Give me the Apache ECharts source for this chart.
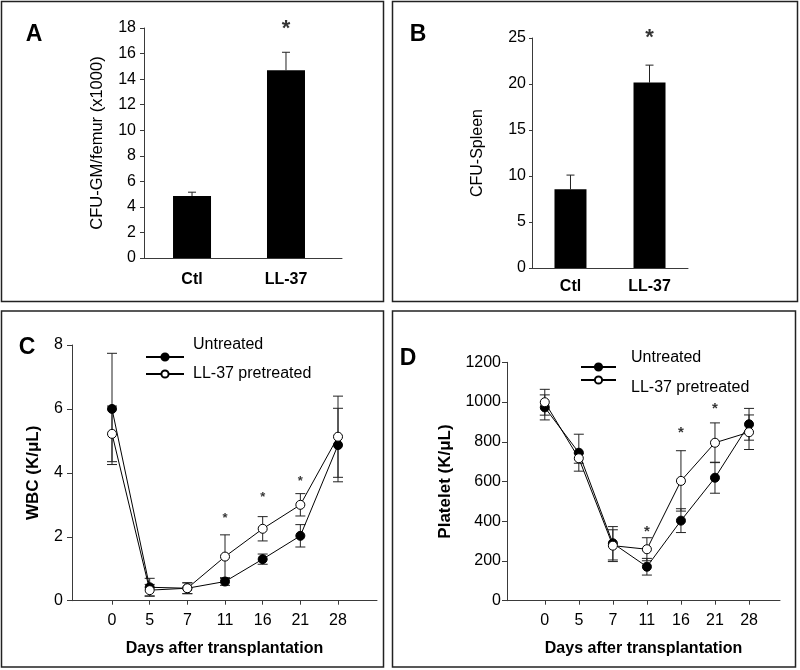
<!DOCTYPE html>
<html><head><meta charset="utf-8">
<script src="https://cdn.jsdelivr.net/npm/echarts@6/dist/echarts.min.js"></script>
<style>html,body{margin:0;padding:0;background:#fff}#c{width:800px;height:670px}</style>
</head><body><div id="c"></div>
<script>
// ---------- data ----------
const barCategories = ['Ctl', 'LL-37'];
const cfuGM = [4.85, 14.7];
const cfuGMErr = [0.3, 1.4];
const cfuGMSig = [[2, 18.3]];
const cfuSpleen = [8.55, 20.15];
const cfuSpleenErr = [1.55, 1.9];
const cfuSpleenSig = [[2, 25.6]];
const days = ['0', '5', '7', '11', '16', '21', '28'];
const wbcUntreated = [6.0, 0.42, 0.39, 0.60, 1.30, 2.03, 4.87];
const wbcUntreatedErr = [1.74, 0.28, 0.17, 0.12, 0.16, 0.35, 1.15];
const wbcPretreated = [5.22, 0.33, 0.39, 1.38, 2.25, 3.0, 5.13];
const wbcPretreatedErr = [0.87, 0.18, 0.17, 0.68, 0.38, 0.35, 1.27];
const wbcSig = [[3, 2.68], [4, 3.31], [5, 3.83]];
const pltUntreated = [973, 745, 289, 171, 403, 619, 888];
const pltUntreatedErr = [63, 93, 84, 42, 60, 78, 80];
const pltPretreated = [999, 717, 277, 259, 603, 795, 848];
const pltPretreatedErr = [65, 25, 80, 58, 152, 100, 87];
const pltSig = [[3, 364], [4, 859], [5, 980]];

// ---------- helpers ----------
const FONT = 'Liberation Sans, Arial, Helvetica, sans-serif';
const AX = '#3a3a3a';
const dayIdx = days.map((d, i) => i);

function errBars(xi, yi, xs, ys, es, bothSides, w) {
  return {
    type: 'custom', xAxisIndex: xi, yAxisIndex: yi, silent: true, z: 2,
    data: ys.map((v, i) => [xs[i], v, es[i]]),
    renderItem: function (params, api) {
      const x = api.value(0), y = api.value(1), e = api.value(2);
      const top = api.coord([x, y + e]);
      const bot = api.coord([x, bothSides ? y - e : y]);
      const st = { stroke: '#222', lineWidth: 1 };
      const ch = [
        { type: 'line', shape: { x1: top[0], y1: top[1], x2: bot[0], y2: bot[1] }, style: st },
        { type: 'line', shape: { x1: top[0] - w, y1: top[1], x2: top[0] + w, y2: top[1] }, style: st }
      ];
      if (bothSides) ch.push({ type: 'line', shape: { x1: bot[0] - w, y1: bot[1], x2: bot[0] + w, y2: bot[1] }, style: st });
      return { type: 'group', children: ch };
    }
  };
}
function sigSeries(xi, yi, pts, size, off) {
  return {
    type: 'scatter', xAxisIndex: xi, yAxisIndex: yi, silent: true, clip: false, z: 5,
    data: pts, symbolSize: 1, itemStyle: { color: 'rgba(0,0,0,0)' },
    label: { show: true, position: 'inside', formatter: '*', fontSize: size, fontWeight: 'bold',
      color: '#000', fontFamily: FONT, offset: [0, off] }
  };
}
function lineSeries(name, xi, yi, vals, filled) {
  return {
    type: 'line', name: name, xAxisIndex: xi, yAxisIndex: yi, z: filled ? 3 : 4,
    data: vals.map((v, i) => [i, v]), symbol: 'circle', symbolSize: 9, showSymbol: true,
    itemStyle: { color: filled ? '#000' : '#fff', borderColor: '#000', borderWidth: 1 },
    lineStyle: { color: '#000', width: 1 }
  };
}
function yAx(gi, min, max, step, name, gap, nameSize, nameBold, tickLen, labMargin) {
  return {
    gridIndex: gi, type: 'value', min: min, max: max, interval: step,
    axisLine: { show: true, onZero: false, lineStyle: { color: AX, width: 1 } },
    axisTick: { show: true, inside: false, length: tickLen, lineStyle: { color: AX } },
    splitLine: { show: false },
    axisLabel: { fontSize: 16, color: '#000', fontFamily: FONT, margin: labMargin, formatter: v => String(v) },
    name: name, nameLocation: 'middle', nameGap: gap,
    nameTextStyle: { fontSize: nameSize, color: '#000', fontFamily: FONT, fontWeight: nameBold ? 'bold' : 'normal' }
  };
}
function xCat(gi, min, max, vals, labels, tick, margin) {
  return {
    gridIndex: gi, type: 'value', min: min, max: max,
    axisLine: { show: true, onZero: false, lineStyle: { color: AX, width: 1 } },
    axisTick: { show: tick, inside: false, length: 4, customValues: vals, lineStyle: { color: AX } },
    splitLine: { show: false },
    axisLabel: { customValues: vals, formatter: v => labels[Math.round(v - vals[0])],
      fontSize: 16, color: '#000', fontFamily: FONT, margin: margin, fontWeight: tick ? 'normal' : 'bold' }
  };
}
function legendOf(name, left, top, w, before, after, padLeft) {
  return {
    data: [name], left: left, top: top, itemWidth: w, itemHeight: 9, padding: 0, selectedMode: false,
    formatter: n => (before ? '{b| }\n' : '') + '{a|' + n + '}' + (after ? '\n{c| }' : ''),
    textStyle: { fontSize: 16, color: '#000', fontFamily: FONT, padding: [0, 0, 0, padLeft],
      rich: {
        a: { fontSize: 16, lineHeight: 16, color: '#000', fontFamily: FONT },
        b: { fontSize: 4, lineHeight: before || 1 },
        c: { fontSize: 4, lineHeight: after || 1 }
      } }
  };
}

const chart = echarts.init(document.getElementById('c'), null, { renderer: 'canvas' });
const option = {
  animation: false,
  backgroundColor: '#fff',
  textStyle: { fontFamily: FONT },
  grid: [
    { left: 144, top: 28, width: 198, height: 230, outerBoundsMode: 'none' },
    { left: 532, top: 38, width: 156, height: 230, outerBoundsMode: 'none' },
    { left: 72, top: 345, width: 305, height: 255.7, outerBoundsMode: 'none' },
    { left: 507, top: 362.3, width: 273, height: 238.4, outerBoundsMode: 'none' }
  ],
  xAxis: [
    xCat(0, 0.489, 2.596, [1, 2], barCategories, false, 14),
    xCat(1, 0.513, 2.487, [1, 2], barCategories, false, 11),
    Object.assign(xCat(2, -1.062, 7.035, dayIdx, days, true, 12), {
      name: 'Days after transplantation', nameLocation: 'middle', nameGap: 40,
      nameTextStyle: { fontSize: 16, fontWeight: 'bold', color: '#000', fontFamily: FONT } }),
    Object.assign(xCat(3, -1.11, 6.91, dayIdx, days, true, 12), {
      name: 'Days after transplantation', nameLocation: 'middle', nameGap: 40,
      nameTextStyle: { fontSize: 16, fontWeight: 'bold', color: '#000', fontFamily: FONT } })
  ],
  yAxis: [
    yAx(0, 0, 18, 2, 'CFU-GM/femur (x1000)', 38, 16.5, false, 4, 8),
    yAx(1, 0, 25, 5, 'CFU-Spleen', 46, 16, false, 3, 6),
    yAx(2, 0, 8, 2, 'WBC (K/μL)', 30, 17, true, 5, 9),
    yAx(3, 0, 1200, 200, 'Platelet (K/μL)', 53, 17, true, 5, 6)
  ],
  legend: [
    legendOf('Untreated', 145, 337, 38, 0, 24, 4),
    legendOf('LL-37 pretreated', 145, 366, 38, 0, 0, 4),
    legendOf('Untreated', 580, 350, 35, 0, 18, 10),
    legendOf('LL-37 pretreated', 580, 370, 35, 16, 0, 10)
  ],
  graphic: [
    { type: 'rect', shape: { x: 1.5, y: 1.5, width: 382, height: 300 }, style: { fill: 'none', stroke: '#222', lineWidth: 1.5 }, silent: true },
    { type: 'rect', shape: { x: 392.5, y: 1.5, width: 405, height: 300 }, style: { fill: 'none', stroke: '#222', lineWidth: 1.5 }, silent: true },
    { type: 'rect', shape: { x: 1.5, y: 311, width: 382, height: 356 }, style: { fill: 'none', stroke: '#222', lineWidth: 1.5 }, silent: true },
    { type: 'rect', shape: { x: 392.5, y: 311, width: 403, height: 356 }, style: { fill: 'none', stroke: '#222', lineWidth: 1.5 }, silent: true },
    { type: 'text', x: 34, y: 35, style: { text: 'A', fill: '#000', font: 'bold 23px ' + FONT, textAlign: 'center', textVerticalAlign: 'middle' }, silent: true },
    { type: 'text', x: 418, y: 35, style: { text: 'B', fill: '#000', font: 'bold 23px ' + FONT, textAlign: 'center', textVerticalAlign: 'middle' }, silent: true },
    { type: 'text', x: 27, y: 348, style: { text: 'C', fill: '#000', font: 'bold 23px ' + FONT, textAlign: 'center', textVerticalAlign: 'middle' }, silent: true },
    { type: 'text', x: 408, y: 359, style: { text: 'D', fill: '#000', font: 'bold 23px ' + FONT, textAlign: 'center', textVerticalAlign: 'middle' }, silent: true }
  ],
  series: [
    { type: 'bar', xAxisIndex: 0, yAxisIndex: 0, data: cfuGM.map((v, i) => [i + 1, v]), barWidth: 38, itemStyle: { color: '#000' }, z: 3 },
    errBars(0, 0, [1, 2], cfuGM, cfuGMErr, false, 4),
    sigSeries(0, 0, cfuGMSig, 22, 5),
    { type: 'bar', xAxisIndex: 1, yAxisIndex: 1, data: cfuSpleen.map((v, i) => [i + 1, v]), barWidth: 32, itemStyle: { color: '#000' }, z: 3 },
    errBars(1, 1, [1, 2], cfuSpleen, cfuSpleenErr, false, 4),
    sigSeries(1, 1, cfuSpleenSig, 22, 5),
    errBars(2, 2, dayIdx, wbcUntreated, wbcUntreatedErr, true, 5),
    errBars(2, 2, dayIdx, wbcPretreated, wbcPretreatedErr, true, 5),
    lineSeries('Untreated', 2, 2, wbcUntreated, true),
    lineSeries('LL-37 pretreated', 2, 2, wbcPretreated, false),
    sigSeries(2, 2, wbcSig, 13, 3),
    errBars(3, 3, dayIdx, pltUntreated, pltUntreatedErr, true, 5),
    errBars(3, 3, dayIdx, pltPretreated, pltPretreatedErr, true, 5),
    lineSeries('Untreated', 3, 3, pltUntreated, true),
    lineSeries('LL-37 pretreated', 3, 3, pltPretreated, false),
    sigSeries(3, 3, pltSig, 15, 3)
  ]
};
chart.setOption(option);
</script>
</body></html>
